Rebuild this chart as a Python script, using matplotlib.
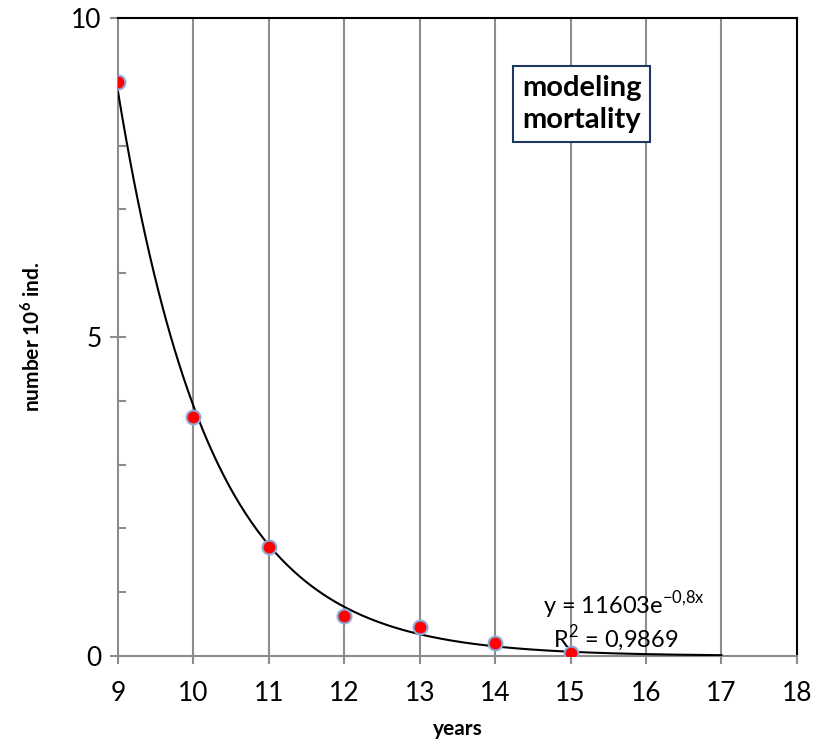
import numpy as np
import matplotlib
matplotlib.use("Agg")
import matplotlib.pyplot as plt
from matplotlib.ticker import MultipleLocator

plt.rcParams['font.family'] = ['Lato', 'DejaVu Sans']
plt.rcParams['mathtext.fontset'] = 'custom'
plt.rcParams['mathtext.rm'] = 'Lato'
plt.rcParams['mathtext.bf'] = 'Lato:bold'

# data
years = [9, 10, 11, 12, 13, 14, 15]
number = [9.0, 3.75, 1.71, 0.62, 0.45, 0.2, 0.05]
eq_text = "y = 11603e$^{\\mathregular{-0{,}8x}}$"
r2_text = "R$^{\\mathregular{2}}$ = 0,9869"
x_ticks = list(range(9, 19))
y_ticks = [0, 5, 10]

# exponential trendline, fitted on log values
k, lnA = np.polyfit(years, np.log(number), 1)
xs = np.linspace(9, 17, 300)
ys = np.exp(lnA + k * xs)

fig = plt.figure(figsize=(8.14, 7.46), dpi=100)
ax = fig.add_axes([0.145, 0.1206, 0.979 - 0.145, 0.9759 - 0.1206])

grey = '#8c8c8c'
for x in x_ticks[1:-1]:
    ax.axvline(x, color=grey, lw=1.5, zorder=1)

ax.plot(xs, ys, color='black', lw=1.5, zorder=3)
ax.plot(years, number, 'o', ms=10, mfc='#ff0000', mec='#8eaadb', mew=1.5, zorder=4)

ax.set_xlim(9, 18)
ax.set_ylim(0, 10)
ax.set_xticks(x_ticks)
ax.set_yticks(y_ticks)
ax.yaxis.set_minor_locator(MultipleLocator(1))

for s in ['left', 'bottom']:
    ax.spines[s].set_color(grey)
    ax.spines[s].set_linewidth(1.5)
for s in ['top', 'right']:
    ax.spines[s].set_color('black')
    ax.spines[s].set_linewidth(1.5)
ax.spines['left'].set_zorder(2)

ax.tick_params(axis='y', which='major', direction='inout', length=12, width=1.5,
               color=grey, labelsize=19, pad=6)
ax.tick_params(axis='y', which='minor', direction='in', length=6, width=1.5, color=grey)
ax.tick_params(axis='x', which='major', direction='out', length=6, width=1.5,
               color=grey, labelsize=19, pad=12)

ax.set_xlabel('years', fontsize=15, fontweight='bold', labelpad=9)
ax.set_ylabel('number 10$^{\\mathbf{6}}$ ind.', fontsize=15, fontweight='bold',
              labelpad=20)

ax.text(15.7, 0.8, eq_text, fontsize=17, ha='center', va='center', zorder=5)
ax.text(15.6, 0.27, r2_text, fontsize=17, ha='center', va='center', zorder=5)

ax.text(15.15, 8.65, 'modeling\nmortality', fontsize=21, fontweight='bold',
        ha='center', va='center', linespacing=1.3, zorder=5,
        bbox=dict(boxstyle='square,pad=0.3', fc='white', ec='#1f3864', lw=1.5))

fig.savefig('out.png', dpi=100)
